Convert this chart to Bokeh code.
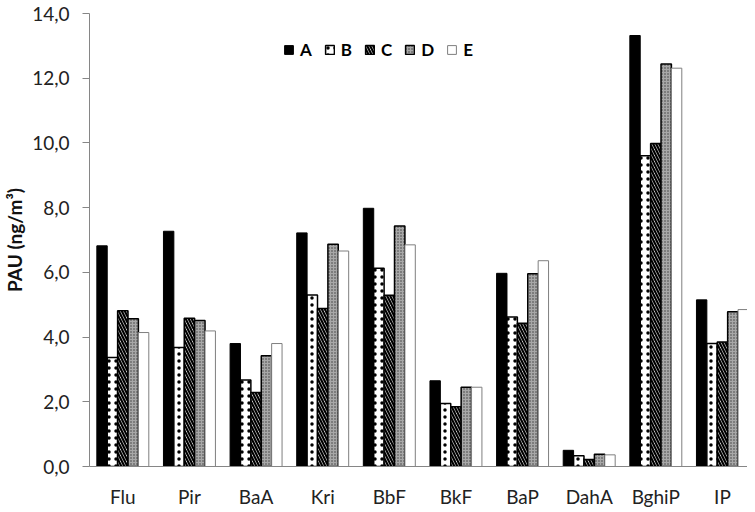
from bokeh.plotting import figure
from bokeh.models import ColumnDataSource, Range1d, FixedTicker, Legend, LegendItem
from bokeh.transform import dodge
from bokeh.embed import file_html
from bokeh.resources import INLINE

categories = ["Flu", "Pir", "BaA", "Kri", "BbF", "BkF", "BaP", "DahA", "BghiP", "IP"]
series_names = ["A", "B", "C", "D", "E"]
A = [6.82, 7.27, 3.80, 7.22, 7.98, 2.65, 5.97, 0.50, 13.32, 5.15]
B = [3.37, 3.68, 2.67, 5.30, 6.13, 1.95, 4.62, 0.33, 9.60, 3.80]
C = [4.81, 4.58, 2.29, 4.88, 5.29, 1.85, 4.43, 0.22, 9.98, 3.85]
D = [4.57, 4.51, 3.42, 6.87, 7.43, 2.45, 5.96, 0.38, 12.44, 4.78]
E = [4.14, 4.19, 3.80, 6.66, 6.85, 2.45, 6.36, 0.36, 12.31, 4.85]
y_ticks = [0, 2, 4, 6, 8, 10, 12, 14]
y_tick_labels = ["0,0", "2,0", "4,0", "6,0", "8,0", "10,0", "12,0", "14,0"]
y_title = "PAU (ng/m³)"

FONT = "Lato"

src = ColumnDataSource(dict(x=list(range(len(categories))), A=A, B=B, C=C, D=D, E=E))

p = figure(frame_width=658, frame_height=453, output_backend="svg", toolbar_location=None,
           x_range=Range1d(-0.5, 9.376), y_range=Range1d(0, 14),
           min_border_left=89, min_border_right=0, min_border_top=13, min_border_bottom=10)
p.outline_line_color = None
p.xgrid.visible = False
p.ygrid.visible = False
p.background_fill_color = "white"

bw = 0.156
offsets = [-2 * bw, -bw, 0, bw, 2 * bw]
styles = {
    "A": dict(fill_color="black", line_color="black", line_width=1),
    "B": dict(fill_color="white", line_color="black", line_width=1.5,
              hatch_pattern="dot", hatch_color="black", hatch_scale=7, hatch_weight=5),
    "C": dict(fill_color="white", line_color="black", line_width=1.5,
              hatch_pattern="left_diagonal_line", hatch_color="black", hatch_scale=6, hatch_weight=2.2),
    "D": dict(fill_color="#a8a8a8", line_color="black", line_width=1.5,
              hatch_pattern="dot", hatch_color="#3a3a3a", hatch_scale=3, hatch_weight=1),
    "E": dict(fill_color="white", line_color="#7f7f7f", line_width=1),
}
items = []
for name, off in zip(series_names, offsets):
    r = p.vbar(x=dodge("x", off), top=name, width=bw, bottom=0,
               source=src, **styles[name])
    items.append(LegendItem(label=name, renderers=[r]))

legend = Legend(items=items, orientation="horizontal", location=(194, 406),
                padding=0, margin=0, spacing=12, glyph_width=11, glyph_height=11,
                label_standoff=6, label_width=0, label_height=14,
                label_text_font=FONT, label_text_font_size="17px",
                label_text_font_style="bold", label_text_color="#000000",
                border_line_color=None, background_fill_alpha=0)
p.add_layout(legend)

# y axis
p.yaxis.ticker = FixedTicker(ticks=y_ticks)
p.yaxis.major_label_overrides = {t: l for t, l in zip(y_ticks, y_tick_labels)}
p.yaxis.axis_line_color = "#868686"
p.yaxis.major_tick_line_color = "#868686"
p.yaxis.major_tick_out = 7
p.yaxis.major_tick_in = 0
p.yaxis.minor_tick_line_color = None
p.yaxis.major_label_text_font = FONT
p.yaxis.major_label_text_font_size = "19px"
p.yaxis.major_label_text_color = "#222222"
p.yaxis.major_label_standoff = 13
p.yaxis.axis_label = y_title
p.yaxis.axis_label_text_font = FONT
p.yaxis.axis_label_text_font_size = "19px"
p.yaxis.axis_label_text_font_style = "bold"
p.yaxis.axis_label_text_color = "#111111"
p.yaxis.axis_label_standoff = 3

# x axis
p.xaxis.ticker = FixedTicker(ticks=list(range(len(categories))))
p.xaxis.major_label_overrides = {i: c for i, c in enumerate(categories)}
p.xaxis.axis_line_color = "#868686"
p.xaxis.major_tick_line_color = None
p.xaxis.major_tick_out = 0
p.xaxis.major_tick_in = 0
p.xaxis.minor_tick_line_color = None
p.xaxis.major_label_text_font = FONT
p.xaxis.major_label_text_font_size = "19px"
p.xaxis.major_label_text_color = "#222222"
p.xaxis.major_label_standoff = 18

open("out.html", "w").write(file_html(p, INLINE))
